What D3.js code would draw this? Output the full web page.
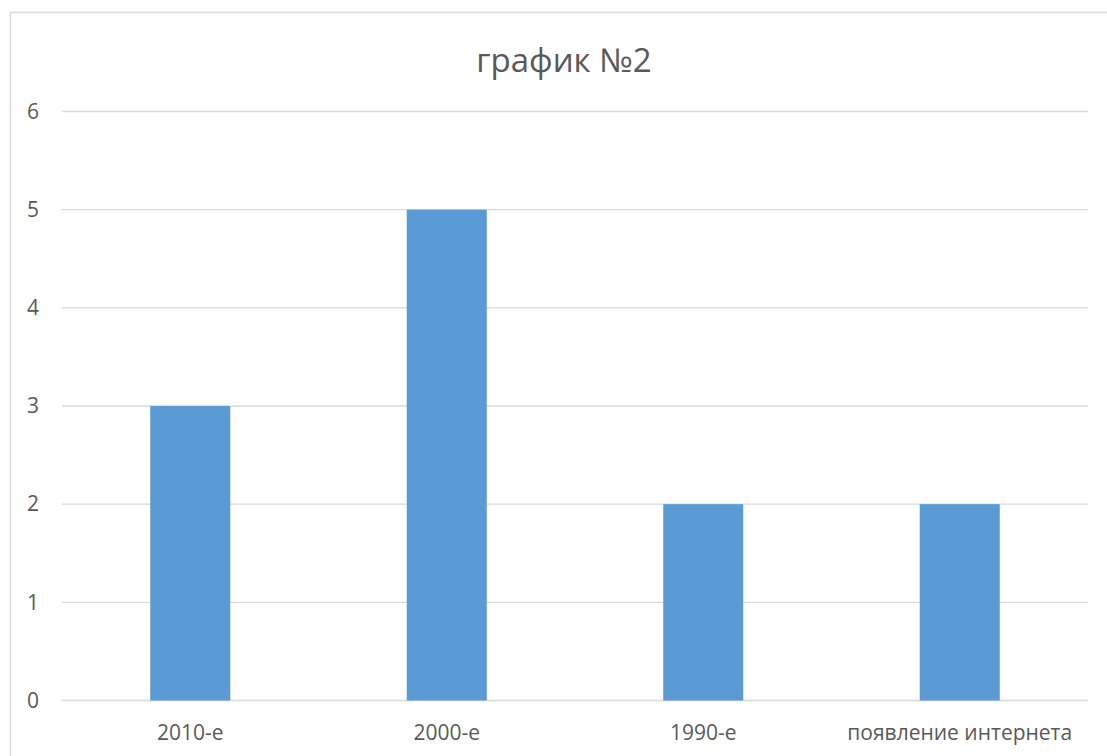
<!DOCTYPE html>
<html><head><meta charset="utf-8">
<script src="https://cdn.jsdelivr.net/npm/d3@7"></script>
<style>body{margin:0;background:#fff}svg{display:block}text{font-family:"Open Sans",sans-serif;fill:#595959}</style>
</head><body><svg id="c" width="1107" height="756"></svg>
<script>
const categories = ["2010-е", "2000-е", "1990-е", "появление интернета"];
const values = [3, 5, 2, 2];
const yTicks = [0, 1, 2, 3, 4, 5, 6];
const title = "график №2";

const svg = d3.select("#c");
svg.append("rect").attr("x", 10.5).attr("y", 12.5).attr("width", 1110).attr("height", 760)
  .attr("fill", "#fff").attr("stroke", "#d9d9d9").attr("stroke-width", 1.5);

const x = d3.scaleBand().domain(categories).range([62, 1088]).paddingInner(0.688).paddingOuter(0.344);
const y = d3.scaleLinear().domain([0, 6]).range([700.5, 111.5]);

const grid = svg.append("g");
grid.selectAll("line").data(yTicks).join("line")
  .attr("x1", 62).attr("x2", 1088)
  .attr("y1", d => y(d)).attr("y2", d => y(d))
  .attr("stroke", "#d9d9d9").attr("stroke-width", 1.3);

svg.append("g").selectAll("rect").data(values).join("rect")
  .attr("x", (d, i) => x(categories[i]))
  .attr("width", x.bandwidth())
  .attr("y", d => y(d))
  .attr("height", d => y(0) - y(d))
  .attr("fill", "#5b9bd5");

const yAxis = d3.axisLeft(y).tickValues(yTicks).tickFormat(d3.format("d")).tickSize(0).tickPadding(0);
const ya = svg.append("g").attr("transform", "translate(39,0)").call(yAxis);
ya.select(".domain").remove();
ya.selectAll("text").attr("font-size", 21).attr("fill", "#595959");

const xAxis = d3.axisBottom(x).tickSize(0).tickPadding(0);
const xa = svg.append("g").attr("transform", "translate(0,725.5)").call(xAxis);
xa.select(".domain").remove();
xa.selectAll("text").attr("font-size", 21).attr("fill", "#595959");

svg.append("text").attr("x", 564).attr("y", 72).attr("text-anchor", "middle")
  .attr("font-size", 33).text(title);
</script></body></html>
